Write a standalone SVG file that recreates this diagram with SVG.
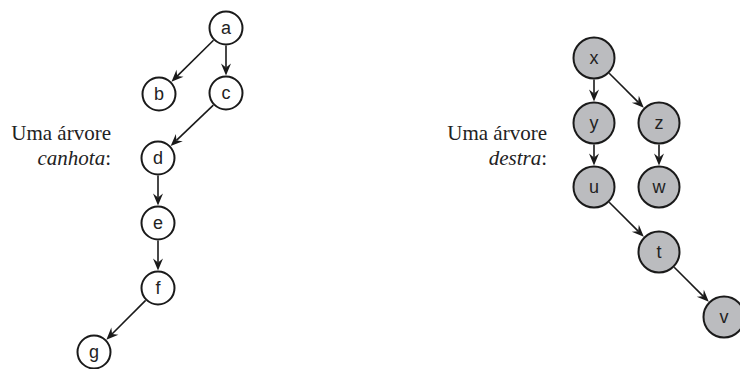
<svg xmlns="http://www.w3.org/2000/svg" width="740" height="369" viewBox="0 0 740 369">
<defs>
<style>
.n circle{stroke:#1a1a1a;stroke-width:2;fill:#fff}
.g circle{fill:#bbbcbf}
.n text{font-family:"Liberation Sans",Arial,sans-serif;font-size:18px;fill:#222;text-anchor:middle}
.lbl{font-family:"Liberation Serif","Times New Roman",serif;font-size:21px;fill:#222;text-anchor:end}
.e line{stroke:#1a1a1a;stroke-width:1.6;marker-end:url(#ah)}
</style>
<marker id="ah" markerUnits="userSpaceOnUse" markerWidth="14" markerHeight="12" viewBox="-3 -6 14 12" refX="2" refY="0" orient="auto">
<path d="M10,0 L-2,-5 L2,0 L-2,5 Z" fill="#1a1a1a"/>
</marker>
</defs>
<text class="lbl" x="111" y="140">Uma árvore</text>
<text class="lbl" x="111" y="165"><tspan font-style="italic">canhota</tspan>:</text>
<text class="lbl" x="547" y="140">Uma árvore</text>
<text class="lbl" x="547" y="165"><tspan font-style="italic">destra</tspan>:</text>
<g class="e" id="edges">
<line x1="213.53" y1="40.28" x2="177.17" y2="76.11"/>
<line x1="226" y1="45.5" x2="226" y2="67.5"/>
<line x1="213.35" y1="105.09" x2="176.43" y2="140.38"/>
<line x1="158" y1="175.5" x2="158" y2="197.5"/>
<line x1="158" y1="240.5" x2="158" y2="262.5"/>
<line x1="145.63" y1="300.37" x2="112.03" y2="333.97"/>
<line x1="594" y1="79.5" x2="594" y2="93.5"/>
<line x1="609.2" y1="73.2" x2="638.14" y2="102.14"/>
<line x1="594" y1="144.5" x2="594" y2="157.5"/>
<line x1="659" y1="144.5" x2="659" y2="157.5"/>
<line x1="609.2" y1="202.2" x2="638.14" y2="231.14"/>
<line x1="674.2" y1="267.2" x2="703.14" y2="296.14"/>
</g>
<g class="n" id="a"><circle cx="226" cy="28" r="16.5"/><text x="226" y="34">a</text></g>
<g class="n" id="b"><circle cx="159" cy="94" r="16.5"/><text x="159" y="100">b</text></g>
<g class="n" id="c"><circle cx="226" cy="93" r="16.5"/><text x="226" y="99">c</text></g>
<g class="n" id="d"><circle cx="158" cy="158" r="16.5"/><text x="158" y="164">d</text></g>
<g class="n" id="e"><circle cx="158" cy="223" r="16.5"/><text x="158" y="229">e</text></g>
<g class="n" id="f"><circle cx="158" cy="288" r="16.5"/><text x="158" y="294">f</text></g>
<g class="n" id="g"><circle cx="94" cy="352" r="16.5"/><text x="94" y="358">g</text></g>
<g class="n g" id="x"><circle cx="594" cy="58" r="20.5"/><text x="594" y="64">x</text></g>
<g class="n g" id="y"><circle cx="594" cy="123" r="20.5"/><text x="594" y="129">y</text></g>
<g class="n g" id="z"><circle cx="659" cy="123" r="20.5"/><text x="659" y="129">z</text></g>
<g class="n g" id="u"><circle cx="594" cy="187" r="20.5"/><text x="594" y="193">u</text></g>
<g class="n g" id="w"><circle cx="659" cy="187" r="20.5"/><text x="659" y="193">w</text></g>
<g class="n g" id="t"><circle cx="659" cy="252" r="20.5"/><text x="659" y="258">t</text></g>
<g class="n g" id="v"><circle cx="724" cy="317" r="20.5"/><text x="724" y="323">v</text></g>
</svg>
